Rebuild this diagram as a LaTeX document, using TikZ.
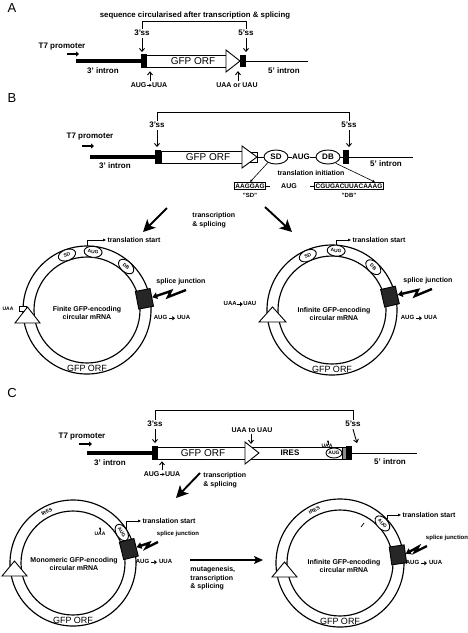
\documentclass[tikz,border=0pt]{standalone}
\usepackage{fontspec}
\setmainfont{Liberation Sans}
\usetikzlibrary{arrows.meta,shapes.geometric,calc}
\newcommand\fatarr{\tikz[baseline=-0.55ex]\draw[line width=1.1pt,-{Triangle[length=2.6pt,width=4.2pt]}](0,0)--(5.5pt,0);}
\newcommand\thinarr{\tikz[baseline=-0.55ex]\draw[line width=0.7pt,-{Stealth[length=2.5pt,width=3pt]}](0,0)--(5pt,0);}
\begin{document}
\begin{tikzpicture}[x=1pt,y=-1pt,line width=0.9pt,
  lab/.style={font=\bfseries\fontsize{8}{9}\selectfont,inner sep=0pt},
  seqlab/.style={font=\bfseries\fontsize{7.8}{9}\selectfont,inner sep=0pt},
  mlab/.style={font=\bfseries\fontsize{7}{8.5}\selectfont,inner sep=0pt,align=center},
  slab/.style={font=\bfseries\fontsize{6}{7}\selectfont,inner sep=0pt,align=center},
  tlab/.style={font=\bfseries\fontsize{5}{6}\selectfont,inner sep=0pt},
  orf/.style={font=\fontsize{10}{11}\selectfont,inner sep=0pt},
  rorf/.style={font=\fontsize{9}{10}\selectfont,inner sep=0pt},
  panel/.style={font=\fontsize{13}{14}\selectfont,inner sep=0pt},
  blk/.style={draw,fill=black,inner sep=0pt,minimum width=5pt,minimum height=13pt},
  orfbox/.style={draw,fill=white,inner sep=0pt,minimum height=12pt},
  oval/.style={draw,fill=white,ellipse,inner sep=0pt,minimum width=24pt,minimum height=14pt,font=\bfseries\fontsize{8}{9}\selectfont},
  roval/.style={draw,fill=white,ellipse,inner sep=0pt,minimum width=18pt,minimum height=11pt,font=\bfseries\fontsize{4.8}{5}\selectfont},
  seqbox/.style={draw,inner sep=1.2pt,font=\bfseries\fontsize{6.5}{7}\selectfont},
  ssarr/.style={-{Straight Barb[length=3pt,width=5pt]},line width=0.9pt},
  promarr/.style={line width=1.6pt,-{Triangle[length=3pt,width=5pt]}},
  bigarr/.style={line width=1.9pt,-{Stealth[length=12pt,width=12pt,inset=3pt]}},
  medarr/.style={line width=1.3pt,-{Stealth[length=9pt,width=8pt,inset=2pt]}},
  tsarr/.style={line width=0.8pt,-{Latex[length=3pt,width=3pt]}},
  smarr/.style={line width=0.6pt,-{Latex[length=2.5pt,width=2.5pt]}},
  bolt/.style={line width=2.4pt,line join=miter,-{Triangle[length=5pt,width=6.5pt]}},
  ring/.style={line width=1.15pt},
  sq/.style={draw,fill=black!85,inner sep=0pt,minimum width=15pt,minimum height=18pt},
  smbox/.style={draw,fill=white,inner sep=0pt,minimum width=7pt,minimum height=5pt},
]
\useasboundingbox (0,0) rectangle (468,633);

%%%%%%%%%%%%%%%% PANEL A
\node[panel] (pA) at (12,8) {A};
\node[seqlab] (seqA) at (195,15) {sequence circularised after transcription \& splicing};
\node[lab] (ss3A) at (142,33) {3'ss};
\node[lab] (ss5A) at (246,33) {5'ss};
\draw (ss3A.north) ++(0,-1) -- ++(0,-7) -| ($(ss5A.north)+(0,-1)$);
\node[lab] (t7A) at (62,47) {T7 promoter};
\coordinate (t7A0) at (67,54); \coordinate (t7A1) at (79,54);
\draw[promarr] (t7A0) -- (t7A1);
\coordinate (iA0) at (76,61);
\node[blk] (boxA1) at (143.5,61) {};
\draw[line width=3.4pt] (iA0) -- (boxA1.west);
\node[orfbox,minimum width=82pt] (orfA) at (187,61) {};
\node[orf] (orfAt) at (193,61.5) {GFP ORF};
\draw[fill=white] (226,50) -- (240,61) -- (226,72) -- cycle;
\node[blk,minimum height=11pt] (boxA2) at (243,61) {};
\coordinate (iA1) at (308,61);
\draw (boxA2.east) -- (iA1);
\node[lab] (in3A) at (103,71) {3' intron};
\node[lab] (in5A) at (284,71) {5' intron};
\draw[ssarr] (ss3A.south) ++(0,2) -- ($(ss3A.south |- boxA1.north)+(0,-2)$);
\draw[ssarr] (ss5A.south) ++(0,2) -- ($(ss5A.south |- boxA2.north)+(0,-3)$);
\node[mlab] (augA) at (149,85) {AUG\thinarr UUA};
\node[mlab] (uaaA) at (237,85) {UAA or UAU};
\draw[ssarr] ($(augA.north)+(1,-1)$) -- ++(0,-10);
\draw[ssarr] ($(uaaA.north)+(1,-1)$) -- ++(0,-10);

%%%%%%%%%%%%%%%% PANEL B
\node[panel] (pB) at (12,98) {B};
\node[lab] (ss3B) at (157,125) {3'ss};
\node[lab] (ss5B) at (349,125) {5'ss};
\draw (ss3B.north) ++(0,-1) -- ++(0,-8) -| ($(ss5B.north)+(0,-1)$);
\node[lab] (t7B) at (90,137) {T7 promoter};
\coordinate (t7B0) at (82,146); \coordinate (t7B1) at (94,146);
\draw[promarr] (t7B0) -- (t7B1);
\coordinate (iB0) at (90,157);
\node[blk] (boxB1) at (158,157) {};
\draw[line width=3.4pt] (iB0) -- (boxB1.west);
\node[orfbox,minimum width=82pt] (orfB) at (202,157) {};
\node[orf] (orfBt) at (208,157.5) {GFP ORF};
\node[draw,inner sep=0pt,minimum width=7pt,minimum height=10pt] (sqB) at (253.5,157) {};
\draw[fill=white] (242,146) -- (257,157) -- (242,168) -- cycle;
\coordinate (apB) at (257,157);
\node[oval] (sdB) at (276,157) {SD};
\node[lab] (augB) at (301,157) {AUG};
\node[oval] (dbB) at (328,157) {DB};
\node[blk] (boxB2) at (346,157) {};
\draw (apB) -- (sdB.west);
\draw (sdB.east) -- (augB.west);
\draw (augB.east) -- (dbB.west);
\draw (dbB.east) -- (boxB2.west);
\coordinate (iB1) at (413,157);
\draw (boxB2.east) -- (iB1);
\node[lab] (in3B) at (115,166) {3' intron};
\node[lab] (in5B) at (386,164) {5' intron};
\draw[ssarr] (ss3B.south) ++(0,2) -- ($(ss3B.south |- boxB1.north)+(0,-3)$);
\draw[ssarr] (ss5B.south) ++(0,2) -- ($(ss5B.south |- boxB2.north)+(0,-3)$);
\node[mlab] (tiB) at (311,173) {translation initiation};
\node[seqbox] (sdseq) at (250,186) {AAGGAG};
\node[slab] (sdq) at (250,195) {"SD"};
\node[mlab] (augseq) at (289,186) {AUG};
\node[seqbox] (dbseq) at (349,186) {CGUGACUUACAAAG};
\node[slab] (dbq) at (349,195) {"DB"};
\draw (sdseq.east) -- ++(4,0);
\draw (dbseq.west) -- ++(-4,0);
\draw[smarr] ($(sdB.south west)+(1,0)$) -- (sdseq.north);
\draw[smarr] ($(dbB.south east)+(-1,1)$) -- ($(dbseq.north)+(26,0)$);
% transcription arrows
\coordinate (bAL0) at (167,208); \coordinate (bAL1) at (143,232);
\coordinate (bAR0) at (265,207); \coordinate (bAR1) at (292,232);
\draw[bigarr] (bAL0) -- (bAL1);
\draw[bigarr] (bAR0) -- (bAR1);
\node[mlab,anchor=west,align=left] (tsB) at (192,220) {transcription\\\& splicing};

% ---- B left circle
\coordinate (cBL) at (87,310);
\draw[ring] (cBL) circle[radius=64] (cBL) circle[radius=53];
\begin{scope}[shift={(cBL)}]
\node[roval,rotate=20] (bLsd) at (-110:58.5) {SD};
\node[roval,rotate=-6] (bLaug) at (-84:58.5) {AUG};
\node[roval,rotate=-42] (bLdb) at (-48:58.5) {DB};
\node[sq,rotate=11] (bLsj) at (-11:58.5) {};
\node[rorf] (bLorf) at (90:58) {GFP ORF};
\end{scope}
\node[smbox] (bLuaab) at (23,309) {};
\draw[fill=white] (15,323) -- (40,323) -- (27.5,307) -- cycle;
\node[tlab] (bLuaa) at (8,309) {UAA};
\node[mlab] (bLts) at (134,240) {translation start};
\draw[tsarr,shorten >=1pt] ($(bLaug.north)+(-6,0)$) |- (bLts.west);
\node[mlab] (bLsjl) at (181,282) {splice junction};
\coordinate (bLb0) at (186,290);
\draw[bolt] (bLb0) -- (168,297) -- (171,291) -- (bLsj.east);
\node[slab] (bLmut) at (172,318) {AUG \fatarr\ UUA};
\node[mlab] (bLc) at (87,313) {Finite GFP-encoding\\circular mRNA};

% ---- B right circle
\coordinate (cBR) at (332,310);
\draw[ring] (cBR) circle[radius=65] (cBR) circle[radius=54];
\begin{scope}[shift={(cBR)}]
\node[roval,rotate=24] (bRsd) at (-114:59.5) {SD};
\node[roval,rotate=-4] (bRaug) at (-86:59.5) {AUG};
\node[roval,rotate=-44] (bRdb) at (-46:59.5) {DB};
\node[sq,rotate=13] (bRsj) at (-13:59.5) {};
\node[rorf] (bRorf) at (90:59) {GFP ORF};
\end{scope}
\draw[fill=white] (259,322) -- (286,322) -- (272.5,307) -- cycle;
\node[slab] (bRuaa) at (240,304) {UAA\fatarr UAU};
\node[mlab] (bRts) at (379,240) {translation start};
\draw[tsarr,shorten >=1pt] ($(bRaug.north)+(0,0)$) |- (bRts.west);
\node[mlab] (bRsjl) at (428,281) {splice junction};
\coordinate (bRb0) at (432,289);
\draw[bolt] (bRb0) -- (415,296) -- (418,290) -- (bRsj.east);
\node[slab] (bRmut) at (419,318) {AUG \fatarr\ UUA};
\node[mlab] (bRc) at (334,314) {Infinite GFP-encoding\\circular mRNA};

%%%%%%%%%%%%%%%% PANEL C
\node[panel] (pC) at (12,393) {C};
\node[lab] (ss3C) at (155,424) {3'ss};
\node[lab] (ss5C) at (353,424) {5'ss};
\draw (ss3C.north) ++(0,-1) -- ++(0,-9) -| ($(ss5C.north)+(0,-1)$);
\node[mlab] (uuC) at (252,430) {UAA to UAU};
\node[lab] (t7C) at (82,437) {T7 promoter};
\coordinate (t7C0) at (79,444); \coordinate (t7C1) at (92,444);
\draw[promarr] (t7C0) -- (t7C1);
\coordinate (iC0) at (87,453);
\node[blk] (boxC1) at (154.5,453) {};
\draw[line width=3.4pt] (iC0) -- (boxC1.west);
\node[orfbox,minimum width=88pt] (orfC) at (201,453) {};
\node[orf] (orfCt) at (203,453.5) {GFP ORF};
\node[orfbox,minimum width=101pt] (iresC) at (296,453) {};
\node[lab] (iresCt) at (290,453) {IRES};
\draw[fill=white] (245,442) -- (259,453) -- (245,464) -- cycle;
\node[roval,minimum width=16pt,minimum height=10pt,font=\bfseries\fontsize{5}{6}\selectfont] (augC) at (334,453) {AUG};
\node[draw,fill=black!45,inner sep=0pt,minimum width=4pt,minimum height=12pt] (hC) at (344,453) {};
\node[blk] (boxC2) at (349,453) {};
\coordinate (iC1) at (417,453);
\draw (boxC2.east) -- (iC1);
\node[lab] (in3C) at (110,463) {3' intron};
\node[lab] (in5C) at (390,462) {5' intron};
\draw[ssarr] (ss3C.south) ++(0,2) -- ($(ss3C.south |- boxC1.north)+(0,-3)$);
\draw[ssarr] (ss5C.south) ++(0,2) -- ($(ss5C.south |- boxC2.north)+(4,-3)$);
\draw[ssarr] ($(uuC.south)+(-1,1)$) -- ++(0,10);
\node[tlab] (uaaC) at (327,446) {UAA};
\draw[smarr] ($(uaaC.north)+(1,1)$) -- ++(0,-5);
\node[mlab] (augCm) at (162,474) {AUG\thinarr UUA};
\draw[ssarr] ($(augCm.north)+(0,-1)$) -- ++(0,-9);
\coordinate (cA0) at (200,473); \coordinate (cA1) at (176,498);
\draw[bigarr] (cA0) -- (cA1);
\node[mlab,anchor=west,align=left] (tsC) at (203,480) {transcription\\\& splicing};

% ---- C left circle
\coordinate (cCL) at (73,563);
\draw[ring] (cCL) circle[radius=63] (cCL) circle[radius=52];
\begin{scope}[shift={(cCL)}]
\node[tlab,rotate=27] (cLires) at (-117:57.5) {IRES};
\node[roval,rotate=-58] (cLaug) at (-32:57.5) {AUG};
\node[sq,rotate=14] (cLsj) at (-14:57.5) {};
\node[rorf] (cLorf) at (90:57) {GFP ORF};
\end{scope}
\draw[fill=white] (2,576) -- (27,576) -- (14.5,561) -- cycle;
\node[tlab] (cLuaa) at (100,534) {UAA};
\draw[smarr] ($(cLuaa.north)+(0,0)$) -- ++(0,-5);
\node[mlab] (cLts) at (169,521) {translation start};
\draw[tsarr,shorten >=1pt] ($(cLaug.north)+(0,0)$) |- (cLts.west);
\node[slab] (cLsjl) at (178,534) {splice junction};
\coordinate (cLb0) at (158,542);
\draw[bolt] (cLb0) -- (146,548) -- (149,543) -- (cLsj.east);
\node[slab] (cLmut) at (154,562) {AUG \fatarr\ UUA};
\node[mlab] (cLc) at (74,564) {Monomeric GFP-encoding\\circular mRNA};

% ---- middle arrow
\coordinate (mA0) at (190,560); \coordinate (mA1) at (263,560);
\draw[medarr] (mA0) -- (mA1);
\node[mlab,anchor=north west,align=left] (mut) at (190,566) {mutagenesis,\\transcription\\\& splicing};

% ---- C right circle
\coordinate (cCR) at (340,563);
\draw[ring] (cCR) circle[radius=64] (cCR) circle[radius=53];
\begin{scope}[shift={(cCR)}]
\node[tlab,rotate=26] (cRires) at (-116:58.5) {IRES};
\node[roval,rotate=-47] (cRaug) at (-43:58) {AUG};
\node[sq,rotate=8] (cRsj) at (-8:58.5) {};
\node[rorf] (cRorf) at (90:58) {GFP ORF};
\end{scope}
\draw[fill=white] (272,577) -- (297,577) -- (284.5,562) -- cycle;
\coordinate (cRm0) at (361,527); \coordinate (cRm1) at (364,523);
\draw[line width=0.7pt] (cRm0) -- (cRm1);
\node[mlab] (cRts) at (429,515) {translation start};
\draw[tsarr,shorten >=1pt] ($(cRaug.north)+(1,0)$) |- (cRts.west);
\node[slab] (cRsjl) at (447,538) {splice junction};
\coordinate (cRb0) at (427,546);
\draw[bolt] (cRb0) -- (415,552) -- (418,547) -- (cRsj.east);
\node[slab] (cRmut) at (424,563) {AUG \fatarr\ UUA};
\node[mlab] (cRc) at (344,566) {Infinite GFP-encoding\\circular mRNA};
\end{tikzpicture}
\end{document}
